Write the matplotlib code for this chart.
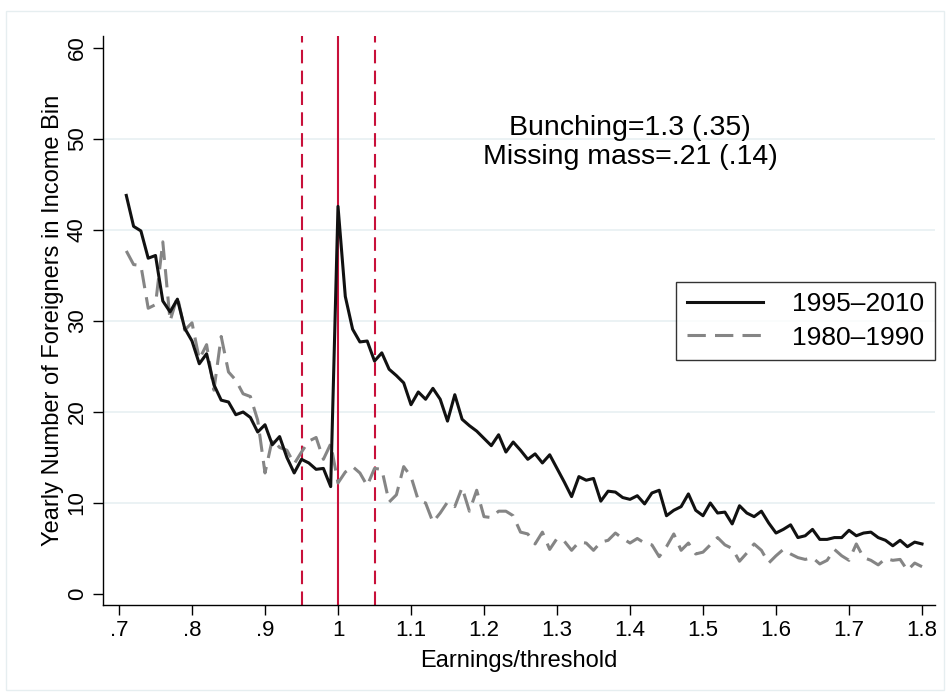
import matplotlib
matplotlib.use("Agg")
import matplotlib.pyplot as plt
from matplotlib.patches import Rectangle
import numpy as np

plt.rcParams['font.family'] = ['Liberation Sans', 'DejaVu Sans']

# Earnings/threshold bins
bins = np.round(np.arange(0.71, 1.805, 0.01), 2)

series_1995_2010 = [
    43.8, 40.4, 39.9, 36.9, 37.2, 32.2, 31.0, 32.4, 29.2, 27.8,
    25.3, 26.4, 23.0, 21.3, 21.1, 19.7, 20.0, 19.4, 17.8, 18.6,
    16.4, 17.3, 15.0, 13.3, 14.8, 14.4, 13.7, 13.8, 11.8, 42.6,
    32.7, 29.1, 27.7, 27.8, 25.6, 26.5, 24.7, 24.0, 23.2, 20.8,
    22.2, 21.4, 22.6, 21.4, 19.0, 21.9, 19.2, 18.5, 17.9, 17.1,
    16.3, 17.5, 15.6, 16.7, 15.8, 14.8, 15.4, 14.4, 15.3, 13.8,
    12.3, 10.7, 12.9, 12.5, 12.7, 10.2, 11.3, 11.2, 10.6, 10.4,
    10.8, 9.9, 11.1, 11.4, 8.6, 9.2, 9.6, 11.0, 9.2, 8.6,
    10.0, 8.9, 9.0, 7.7, 9.7, 8.9, 8.5, 9.1, 7.8, 6.7,
    7.1, 7.6, 6.2, 6.4, 7.1, 6.0, 6.0, 6.2, 6.2, 7.0,
    6.4, 6.7, 6.8, 6.2, 5.9, 5.3, 5.9, 5.2, 5.7, 5.5,
]

series_1980_1990 = [
    37.7, 36.2, 36.1, 31.4, 31.8, 38.7, 30.0, 32.7, 29.0, 29.8,
    25.8, 27.4, 22.4, 28.3, 24.4, 23.5, 22.0, 21.7, 19.1, 13.3,
    17.0, 16.1, 15.8, 14.3, 15.6, 16.8, 17.2, 14.8, 16.5, 12.2,
    13.4, 14.0, 13.3, 11.9, 13.8, 13.7, 10.1, 10.9, 14.0, 12.9,
    10.3, 10.0, 7.9, 8.9, 10.1, 9.6, 11.7, 9.1, 11.4, 8.5,
    8.4, 9.1, 9.1, 8.6, 6.8, 6.6, 5.5, 6.8, 4.9, 6.1,
    5.8, 4.8, 5.7, 5.6, 4.8, 5.7, 5.9, 6.7, 6.1, 5.6,
    6.1, 5.6, 5.4, 4.1, 5.2, 6.6, 4.8, 5.6, 4.4, 4.6,
    5.4, 6.2, 5.4, 5.0, 3.6, 4.5, 5.5, 4.8, 3.4, 4.2,
    4.9, 4.4, 4.0, 3.8, 4.0, 3.3, 3.7, 4.9, 4.2, 3.7,
    5.5, 4.0, 3.7, 3.2, 3.9, 3.7, 3.8, 2.6, 3.4, 3.0,
]

legend_labels = ['1995\u20132010', '1980\u20131990']
x_ticks = [0.7, 0.8, 0.9, 1.0, 1.1, 1.2, 1.3, 1.4, 1.5, 1.6, 1.7, 1.8]
x_ticklabels = ['.7', '.8', '.9', '1', '1.1', '1.2', '1.3', '1.4', '1.5', '1.6', '1.7', '1.8']
y_ticks = [0, 10, 20, 30, 40, 50, 60]
ref_lines = [0.95, 1.0, 1.05]
annotation = ['Bunching=1.3 (.35)', 'Missing mass=.21 (.14)']

W, H = 946, 694
fig = plt.figure(figsize=(W / 100, H / 100), dpi=100)
fig.patch.set_facecolor('white')

# outer frame (Stata graph region)
fig.patches.append(Rectangle((6 / W, 1 - 690 / H), 938 / W, 679 / H,
                             transform=fig.transFigure, fill=False,
                             edgecolor='#e6eef0', linewidth=1.0))

left, right, top, bottom = 103, 935, 36, 605
ax = fig.add_axes([left / W, 1 - bottom / H, (right - left) / W, (bottom - top) / H])

px_per_x = 730.0
x0_px = 119.0
xlim = (0.7 - (x0_px - left) / px_per_x, 1.8 + (right - 922) / px_per_x)
px_per_y = 9.1
ylim = (-(bottom - 594) / px_per_y, 60 + (48 - top) / px_per_y)
ax.set_xlim(*xlim)
ax.set_ylim(*ylim)

for yv in [10, 20, 30, 40, 50]:
    ax.axhline(yv, color='#e8f0f2', linewidth=1.2, zorder=0)

red = '#c8103a'
for xv in ref_lines:
    if xv == 1.0:
        ax.axvline(xv, color=red, linewidth=1.5, zorder=1)
    else:
        ax.axvline(xv, color=red, linewidth=1.5, linestyle=(0, (6.5, 3.5)), zorder=1)

ax.plot(bins, series_1980_1990, color='#858585', linewidth=2.2,
        linestyle=(0, (6, 3)), label=legend_labels[1], zorder=2)
ax.plot(bins, series_1995_2010, color='#111111', linewidth=2.2,
        label=legend_labels[0], zorder=3)

ax.set_xticks(x_ticks)
ax.set_xticklabels(x_ticklabels, fontsize=16)
ax.set_yticks(y_ticks)
ax.set_yticklabels([str(v) for v in y_ticks], fontsize=16, rotation=90, va='center')
ax.tick_params(axis='both', direction='out', length=7, width=1, color='black', pad=4)

for s in ['top', 'right']:
    ax.spines[s].set_visible(False)
for s in ['left', 'bottom']:
    ax.spines[s].set_linewidth(1.0)

ax.set_xlabel('Earnings/threshold', fontsize=17, labelpad=6)
ax.set_ylabel('Yearly Number of Foreigners in Income Bin', fontsize=17, labelpad=2)

ax.text(1.40, 51.2, annotation[0], fontsize=20.5, ha='center', va='center')
ax.text(1.40, 48.0, annotation[1], fontsize=20.5, ha='center', va='center')

handles, labels = ax.get_legend_handles_labels()
order = [1, 0]
leg = ax.legend([handles[i] for i in order], [labels[i] for i in order],
                loc='upper right', bbox_to_anchor=(1.0, 0.568), fontsize=19,
                frameon=True, fancybox=False, edgecolor='black',
                handlelength=2.9, borderpad=0.4, labelspacing=0.35,
                handletextpad=1.1, borderaxespad=0.0)
leg.get_frame().set_linewidth(1.0)

fig.savefig('out.png', dpi=100, facecolor='white')
